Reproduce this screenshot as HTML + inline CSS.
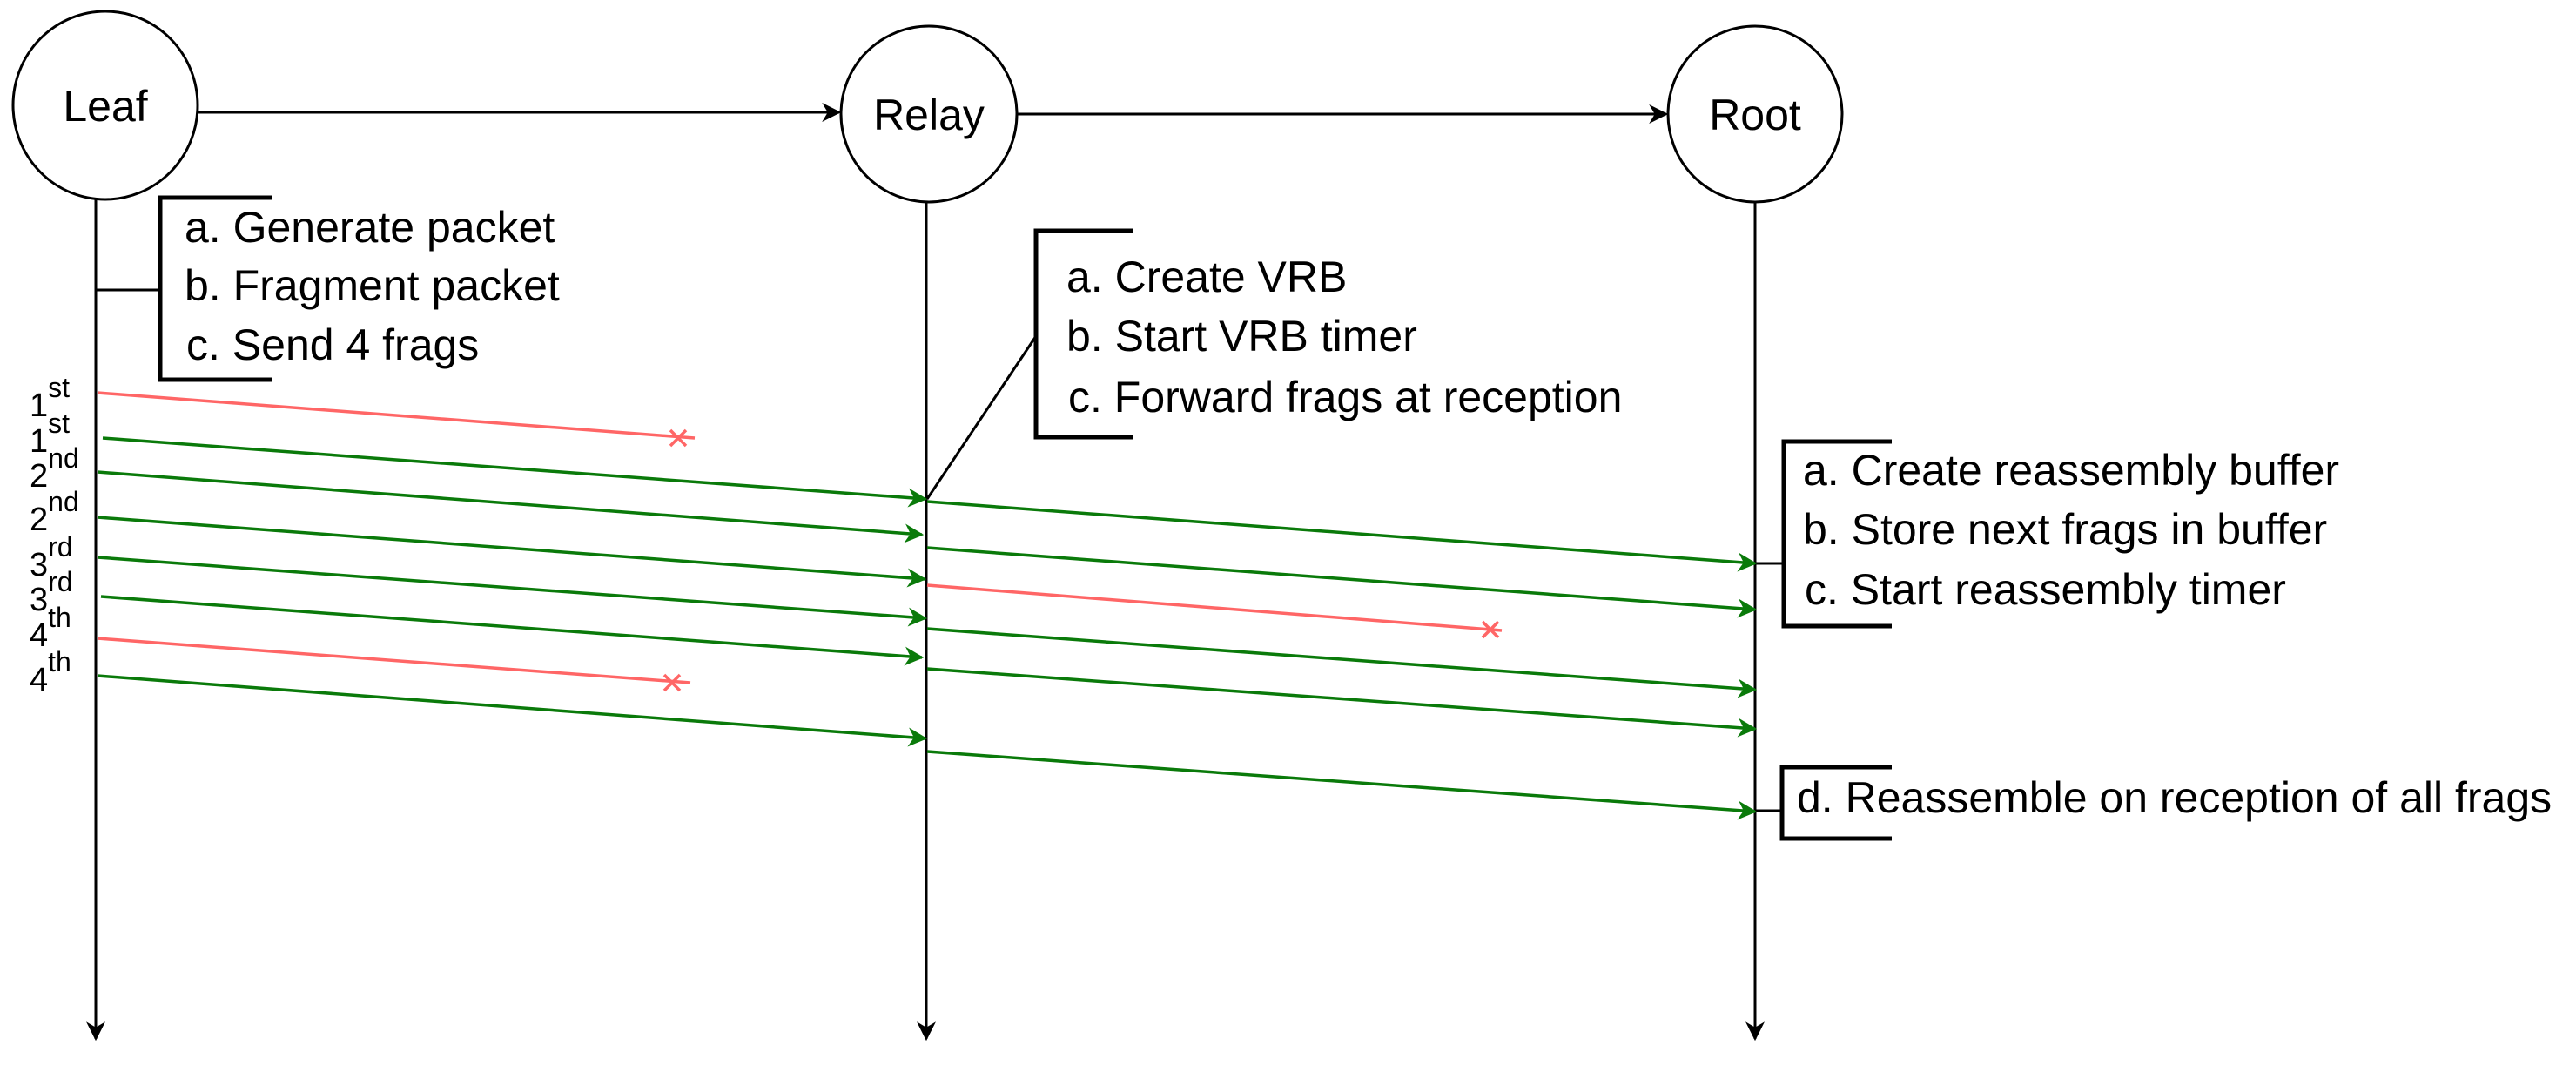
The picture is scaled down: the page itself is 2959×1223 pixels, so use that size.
<!DOCTYPE html>
<html><head><meta charset="utf-8"><style>
html,body{margin:0;padding:0;background:#fff;}
svg{display:block;}
text{font-family:"Liberation Sans",sans-serif;fill:#000;}
</style></head><body>
<svg width="2959" height="1223" viewBox="0 0 2959 1223" xmlns="http://www.w3.org/2000/svg">
<defs>
<marker id="ag" viewBox="0 0 10 10" refX="9" refY="5" markerWidth="22" markerHeight="22" orient="auto" markerUnits="userSpaceOnUse"><path d="M0,0 L10,5 L0,10 L3,5 z" fill="#0a7a0a"/></marker>
<marker id="ak" viewBox="0 0 10 10" refX="9" refY="5" markerWidth="22" markerHeight="22" orient="auto" markerUnits="userSpaceOnUse"><path d="M0,0 L10,5 L0,10 L3,5 z" fill="#000"/></marker>
</defs>
<!-- nodes -->
<ellipse cx="121" cy="121" rx="106" ry="108" fill="#fff" stroke="#000" stroke-width="3"/>
<ellipse cx="1067" cy="131" rx="101" ry="101" fill="#fff" stroke="#000" stroke-width="3"/>
<ellipse cx="2016" cy="131" rx="100" ry="101" fill="#fff" stroke="#000" stroke-width="3"/>
<text x="121" y="139" font-size="50" text-anchor="middle">Leaf</text>
<text x="1067" y="149" font-size="50" text-anchor="middle">Relay</text>
<text x="2016" y="149" font-size="50" text-anchor="middle">Root</text>
<line x1="227" y1="129" x2="964" y2="129" stroke="#000" stroke-width="3" marker-end="url(#ak)"/>
<line x1="1168" y1="131" x2="1914" y2="131" stroke="#000" stroke-width="3" marker-end="url(#ak)"/>
<!-- lifelines -->
<line x1="110" y1="229" x2="110" y2="1193" stroke="#000" stroke-width="3" marker-end="url(#ak)"/>
<line x1="1064" y1="232" x2="1064" y2="1193" stroke="#000" stroke-width="3" marker-end="url(#ak)"/>
<line x1="2016" y1="232" x2="2016" y2="1193" stroke="#000" stroke-width="3" marker-end="url(#ak)"/>
<!-- leaf bracket -->
<path d="M312,227 L184,227 L184,436 L312,436" fill="none" stroke="#000" stroke-width="5"/>
<line x1="110" y1="333" x2="184" y2="333" stroke="#000" stroke-width="3"/>
<text x="212" y="278" font-size="50">a. Generate packet</text>
<text x="212" y="345" font-size="50">b. Fragment packet</text>
<text x="214" y="413" font-size="50">c. Send 4 frags</text>
<!-- relay bracket -->
<path d="M1302,265 L1190,265 L1190,502 L1302,502" fill="none" stroke="#000" stroke-width="5"/>
<line x1="1065" y1="573" x2="1190" y2="386" stroke="#000" stroke-width="3"/>
<text x="1225" y="335" font-size="50">a. Create VRB</text>
<text x="1225" y="403" font-size="50">b. Start VRB timer</text>
<text x="1227" y="473" font-size="50">c. Forward frags at reception</text>
<!-- root bracket 1 -->
<path d="M2173,507 L2049,507 L2049,719 L2173,719" fill="none" stroke="#000" stroke-width="5"/>
<line x1="2016" y1="647" x2="2049" y2="647" stroke="#000" stroke-width="3"/>
<text x="2071" y="557" font-size="50">a. Create reassembly buffer</text>
<text x="2071" y="625" font-size="50">b. Store next frags in buffer</text>
<text x="2073" y="694" font-size="50">c. Start reassembly timer</text>
<!-- root bracket 2 -->
<path d="M2173,881 L2047,881 L2047,963 L2173,963" fill="none" stroke="#000" stroke-width="5"/>
<line x1="2016" y1="931" x2="2047" y2="931" stroke="#000" stroke-width="3"/>
<text x="2064" y="933" font-size="50">d. Reassemble on reception of all frags</text>
<!-- labels -->
<g font-size="38">
<text x="34" y="478">1<tspan dy="-22" font-size="32">st</tspan></text>
<text x="34" y="519">1<tspan dy="-22" font-size="32">st</tspan></text>
<text x="34" y="559">2<tspan dy="-22" font-size="32">nd</tspan></text>
<text x="34" y="609">2<tspan dy="-22" font-size="32">nd</tspan></text>
<text x="34" y="661">3<tspan dy="-22" font-size="32">rd</tspan></text>
<text x="34" y="701">3<tspan dy="-22" font-size="32">rd</tspan></text>
<text x="34" y="742">4<tspan dy="-22" font-size="32">th</tspan></text>
<text x="34" y="793">4<tspan dy="-22" font-size="32">th</tspan></text>
</g>
<!-- leaf -> relay -->
<g stroke-width="3.5" fill="none">
<line x1="112" y1="451" x2="798" y2="503" stroke="#ff6666"/>
<path d="M770,494 L788,512 M770,512 L788,494" stroke="#ff6666"/>
<line x1="118" y1="503" x2="1063" y2="573" stroke="#0a7a0a" marker-end="url(#ag)"/>
<line x1="112" y1="542" x2="1059" y2="614" stroke="#0a7a0a" marker-end="url(#ag)"/>
<line x1="112" y1="594" x2="1062" y2="665" stroke="#0a7a0a" marker-end="url(#ag)"/>
<line x1="112" y1="640" x2="1063" y2="710" stroke="#0a7a0a" marker-end="url(#ag)"/>
<line x1="116" y1="685" x2="1059" y2="755" stroke="#0a7a0a" marker-end="url(#ag)"/>
<line x1="112" y1="733" x2="793" y2="784" stroke="#ff6666"/>
<path d="M763,775 L781,793 M763,793 L781,775" stroke="#ff6666"/>
<line x1="112" y1="776" x2="1063" y2="848" stroke="#0a7a0a" marker-end="url(#ag)"/>
<!-- relay -> root -->
<line x1="1065" y1="576" x2="2016" y2="647" stroke="#0a7a0a" marker-end="url(#ag)"/>
<line x1="1065" y1="629" x2="2016" y2="700" stroke="#0a7a0a" marker-end="url(#ag)"/>
<line x1="1065" y1="672" x2="1725" y2="724" stroke="#ff6666"/>
<path d="M1703,714 L1721,732 M1703,732 L1721,714" stroke="#ff6666"/>
<line x1="1065" y1="722" x2="2016" y2="792" stroke="#0a7a0a" marker-end="url(#ag)"/>
<line x1="1065" y1="768" x2="2016" y2="837" stroke="#0a7a0a" marker-end="url(#ag)"/>
<line x1="1065" y1="863" x2="2016" y2="932" stroke="#0a7a0a" marker-end="url(#ag)"/>
</g>
</svg>
</body></html>
